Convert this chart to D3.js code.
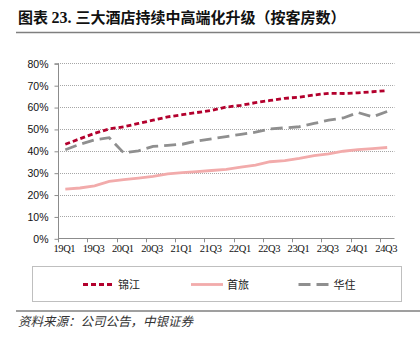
<!DOCTYPE html>
<html>
<head>
<meta charset="utf-8">
<script src="https://cdn.jsdelivr.net/npm/d3@7"></script>
<style>
  body { margin: 0; background: #fff; }
  svg { display: block; }
</style>
</head>
<body>
<div id="chart"></div>
<script>
// Quarters shown on the x axis, and the share of mid/upscale rooms per group.
const quarters = ["19Q1","19Q2","19Q3","19Q4","20Q1","20Q2","20Q3","20Q4",
  "21Q1","21Q2","21Q3","21Q4","22Q1","22Q2","22Q3","22Q4",
  "23Q1","23Q2","23Q3","23Q4","24Q1","24Q2","24Q3"];
const tickLabels = ["19Q1","19Q3","20Q1","20Q3","21Q1","21Q3","22Q1","22Q3","23Q1","23Q3","24Q1","24Q3"];
const jinjiang = [43, 45.5, 48, 50, 51, 52.5, 54, 55.5, 56.5, 57.5, 58.5, 60,
  60.8, 62, 63, 64, 64.5, 65.5, 66.3, 66.2, 66.5, 67, 67.5];
const shoulv = [22.5, 23, 24, 26, 26.8, 27.5, 28.3, 29.5, 30, 30.5, 31, 31.5,
  32.5, 33.5, 35, 35.5, 36.5, 37.8, 38.6, 39.8, 40.5, 41, 41.5];
const huazhu = [40.5, 43, 45, 46, 39, 40, 42, 42.5, 43, 44.5, 45.5, 46.5,
  47.5, 48.5, 50, 50.5, 51, 52.5, 54, 55, 57.5, 55.5, 58];
const yTicks = [0, 10, 20, 30, 40, 50, 60, 70, 80];

const series = [
  { name: "锦江", values: jinjiang, color: "#b3002d", dash: "5,3" },
  { name: "首旅", values: shoulv, color: "#f2abab", dash: null },
  { name: "华住", values: huazhu, color: "#8f8f8f", dash: "12,6" }
];

const width = 420, height = 352;
const plot = { left: 58, right: 394.5, top: 63.3, bottom: 238.3 };
const cjk = "'Noto Sans CJK SC', sans-serif";

const svg = d3.select("#chart").append("svg")
  .attr("width", width)
  .attr("height", height);

// title + rule
const title = svg.append("text")
  .attr("x", 18).attr("y", 23)
  .attr("font-family", cjk)
  .attr("font-weight", "bold")
  .attr("font-size", "15px")
  .attr("fill", "#111");
title.append("tspan").text("图表 ");
title.append("tspan")
  .attr("font-family", "'Liberation Serif', serif")
  .attr("font-size", "16px")
  .text("23. ");
title.append("tspan").text("三大酒店持续中高端化升级（按客房数）");

svg.append("line")
  .attr("x1", 16).attr("x2", 420).attr("y1", 32.5).attr("y2", 32.5)
  .attr("stroke", "#7f7f7f").attr("stroke-width", 1.5);

// scales
const x = d3.scaleBand().domain(quarters).range([plot.left, plot.right]);
const y = d3.scaleLinear().domain([0, 80]).range([plot.bottom, plot.top]);
const cx = q => x(q) + x.bandwidth() / 2;

// gridlines
svg.append("g").selectAll("line")
  .data(yTicks.filter(d => d > 0))
  .join("line")
  .attr("x1", plot.left).attr("x2", plot.right)
  .attr("y1", d => Math.round(y(d)) + 0.5).attr("y2", d => Math.round(y(d)) + 0.5)
  .attr("stroke", "#a6a6a6")
  .attr("stroke-dasharray", "1,1");

// y axis
const yAxis = svg.append("g")
  .attr("transform", `translate(${plot.left + 0.5},0.5)`)
  .call(d3.axisLeft(y).tickValues(yTicks).tickSize(4).tickFormat(d => d + "%"));
yAxis.select(".domain").attr("stroke", "#8c8c8c").attr("d", `M-4,${plot.top}H0V${plot.bottom}`);
yAxis.selectAll(".tick line").attr("stroke", "#8c8c8c");
yAxis.selectAll(".tick text")
  .attr("x", -10)
  .attr("font-family", "'Liberation Sans', Arial, sans-serif")
  .attr("font-size", "10.5px")
  .attr("fill", "#111");

// x axis (ticks on band boundaries, every second quarter)
const xg = svg.append("g");
xg.append("line")
  .attr("x1", plot.left).attr("x2", plot.right)
  .attr("y1", Math.round(plot.bottom) + 0.5).attr("y2", Math.round(plot.bottom) + 0.5)
  .attr("stroke", "#8c8c8c");
xg.selectAll("line.tk")
  .data(tickLabels)
  .join("line")
  .attr("class", "tk")
  .attr("x1", d => Math.round(x(d)) + 0.5).attr("x2", d => Math.round(x(d)) + 0.5)
  .attr("y1", plot.bottom).attr("y2", plot.bottom + 4)
  .attr("stroke", "#8c8c8c");
xg.selectAll("text")
  .data(tickLabels)
  .join("text")
  .attr("x", d => cx(d) - 1)
  .attr("y", 251.5)
  .attr("text-anchor", "middle")
  .attr("font-family", "'Liberation Serif', 'Times New Roman', serif")
  .attr("font-size", "10.5px")
  .attr("letter-spacing", "-0.4px")
  .attr("fill", "#111")
  .text(d => d);

// lines
const line = d3.line()
  .x((d, i) => cx(quarters[i]))
  .y(d => y(d));

svg.append("g").selectAll("path")
  .data(series)
  .join("path")
  .attr("d", d => line(d.values))
  .attr("fill", "none")
  .attr("stroke", d => d.color)
  .attr("stroke-width", 2.8)
  .attr("stroke-dasharray", d => d.dash);

// legend
svg.append("rect")
  .attr("x", 32.5).attr("y", 266.5).attr("width", 369).attr("height", 35)
  .attr("fill", "none").attr("stroke", "#bfbfbf");

const legendX = [83, 191, 298.5];
const legend = svg.append("g").selectAll("g")
  .data(series)
  .join("g")
  .attr("transform", (d, i) => `translate(${legendX[i]},284.5)`);
legend.append("line")
  .attr("x1", 0).attr("x2", 32)
  .attr("stroke", d => d.color)
  .attr("stroke-width", 2.8)
  .attr("stroke-dasharray", d => d.dash);
legend.append("text")
  .attr("x", (d, i) => i === 1 ? 36 : 35)
  .attr("y", 4)
  .attr("font-family", cjk)
  .attr("font-size", "11px")
  .attr("fill", "#222")
  .text(d => d.name);

// source rule + note
svg.append("line")
  .attr("x1", 16).attr("x2", 420).attr("y1", 311).attr("y2", 311)
  .attr("stroke", "#7f7f7f").attr("stroke-width", 1.5);

svg.append("text")
  .attr("x", 18).attr("y", 326)
  .attr("font-family", cjk)
  .attr("font-style", "italic")
  .attr("font-size", "12.5px")
  .attr("fill", "#333")
  .text("资料来源：公司公告，中银证券");
</script>
</body>
</html>
